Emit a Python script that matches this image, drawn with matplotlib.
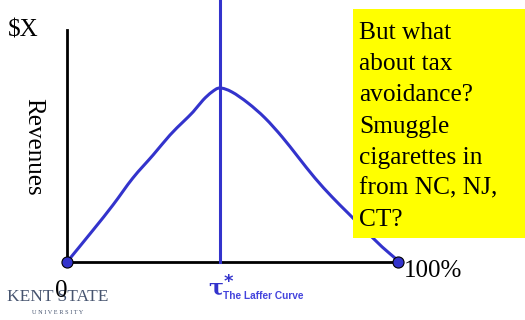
import matplotlib.pyplot as plt
from matplotlib.path import Path
from matplotlib.patches import PathPatch

# tax rate (%) and tax revenue (% of $X) along the Laffer curve
tax_rate = [0, 7.9, 13.9, 19.9, 26.0, 31.1, 35.0, 38.1, 41.1, 43.8, 46.2,
            49.8, 54.7, 59.8, 65.0, 69.8, 74.9, 80.1, 84.9, 90.0, 95.2, 99.1, 100]
revenue = [0, 13.8, 24.6, 36.2, 46.1, 54.7, 60.3, 64.7, 69.8, 73.3, 75.0,
           73.3, 68.5, 62.1, 53.9, 45.3, 36.2, 28.0, 21.1, 13.8, 6.5, 1.7, 0]
tau_star = 46.2
end_points_x = [0, 100]
end_points_y = [0, 0]

note_lines = ["But what", "about tax", "avoidance?", "Smuggle",
              "cigarettes in", "from NC, NJ,", "CT?"]

BLUE = "#3333cc"
W, H = 525, 320


def fx(px):
    return px / W


def fy(py):
    return 1 - py / H


def smooth_path(xs, ys):
    # Catmull-Rom through the points, drawn as cubic Bezier segments
    pts = list(zip(xs, ys))
    verts = [pts[0]]
    codes = [Path.MOVETO]
    for i in range(len(pts) - 1):
        p0 = pts[max(i - 1, 0)]
        p1 = pts[i]
        p2 = pts[i + 1]
        p3 = pts[min(i + 2, len(pts) - 1)]
        c1 = (p1[0] + (p2[0] - p0[0]) / 6, p1[1] + (p2[1] - p0[1]) / 6)
        c2 = (p2[0] - (p3[0] - p1[0]) / 6, p2[1] - (p3[1] - p1[1]) / 6)
        verts += [c1, c2, p2]
        codes += [Path.CURVE4] * 3
    return Path(verts, codes)


fig = plt.figure(figsize=(5.25, 3.2), dpi=100)
ax = fig.add_axes([fx(67), fy(262), fx(398) - fx(67), fy(30) - fy(262)])
ax.set_xlim(0, 100)
ax.set_ylim(0, 100)
ax.set_xticks([])
ax.set_yticks([])
for s in ["top", "right"]:
    ax.spines[s].set_visible(False)
for s in ["left", "bottom"]:
    ax.spines[s].set_linewidth(2.0)
    ax.spines[s].set_color("black")

ax.add_patch(PathPatch(smooth_path(tax_rate, revenue), facecolor="none",
                       edgecolor=BLUE, lw=2.2, zorder=3, clip_on=False))
# tau* line runs up to the top of the figure
ax.plot([tau_star, tau_star], [0, 100 * 262 / 232], color=BLUE, lw=2.2,
        zorder=3, clip_on=False)
ax.plot(end_points_x, end_points_y, "o", ms=8, mfc=BLUE, mec="black",
        mew=0.8, zorder=5, clip_on=False)

# yellow note box
fig.patches.append(plt.Rectangle((fx(353), fy(238)), fx(525) - fx(353),
                                 fy(9) - fy(238), transform=fig.transFigure,
                                 facecolor="#ffff00", edgecolor="none",
                                 zorder=10))
fig.text(fx(359), fy(22), "\n".join(note_lines), family="Liberation Serif",
         fontsize=18.3, va="top", ha="left", linespacing=1.54, zorder=11)

serif = dict(family="Liberation Serif", color="black")
fig.text(fx(8), fy(30), "$X", fontsize=18, va="center", ha="left", **serif)
fig.text(fx(33), fy(147), "Revenues", fontsize=18, rotation=270,
         va="center", ha="center", **serif)
fig.text(fx(404), fy(271), "100%", fontsize=18, va="center", ha="left",
         zorder=6, **serif)

# Kent State wordmark
fig.text(fx(58), fy(297), "KENT STATE", family="Liberation Serif",
         fontsize=12.5, color="#46546f", va="center", ha="center")
fig.text(fx(58), fy(312), "U N I V E R S I T Y", family="Liberation Serif",
         fontsize=4.5, color="#46546f", va="center", ha="center")
fig.text(fx(61), fy(291), "0", fontsize=18, va="center", ha="center",
         zorder=6, **serif)

# tau* with caption
fig.text(fx(216), fy(289), "τ", family="DejaVu Serif", fontsize=16,
         fontweight="bold", color=BLUE, va="center", ha="center")
fig.text(fx(228), fy(282), "*", family="DejaVu Sans", fontsize=13,
         fontweight="bold", color=BLUE, va="center", ha="center")
fig.text(fx(223), fy(296), "The Laffer Curve", family="Liberation Sans",
         fontsize=7.3, fontweight="bold", color="#4444dd", va="center",
         ha="left")

fig.savefig("out.png", dpi=100)
